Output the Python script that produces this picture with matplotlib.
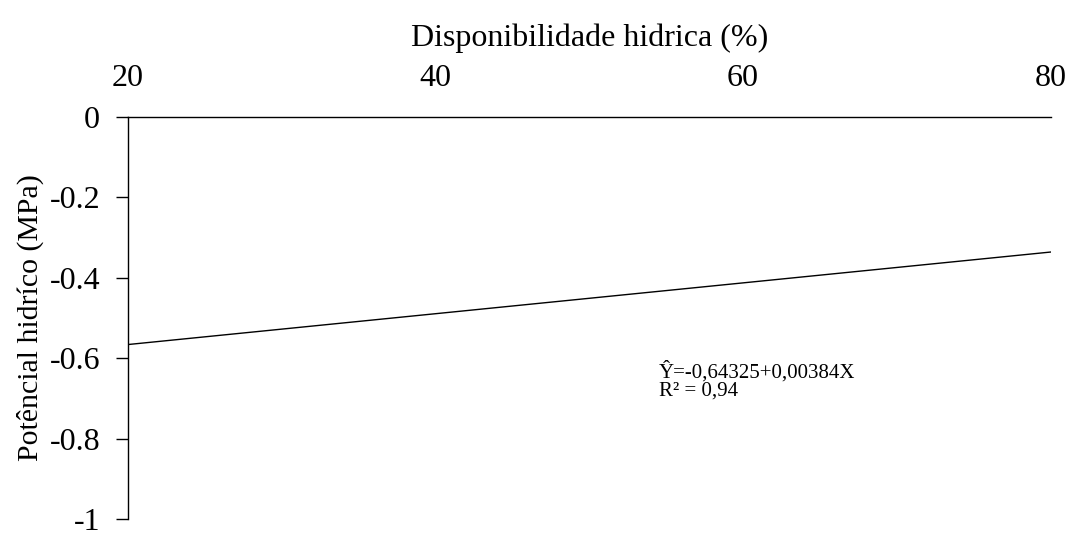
import matplotlib
matplotlib.use("Agg")
import matplotlib.pyplot as plt

x_vals = [20, 80]
y_vals = [-0.566, -0.336]
x_ticks = [20, 40, 60, 80]
y_ticks = [0, -0.2, -0.4, -0.6, -0.8, -1]
y_tick_labels = ["0", "-0.2", "-0.4", "-0.6", "-0.8", "-1"]
eq_lines = ['Ŷ=-0,64325+0,00384X', 'R² = 0,94']

plt.rcParams['font.family'] = ['Liberation Serif', 'DejaVu Serif']

fig = plt.figure(figsize=(10.72, 5.34), dpi=100)
ax = fig.add_axes([0.1194, 0.028, 0.8606, 0.753])
ax.plot(x_vals, y_vals, color='black', linewidth=1.0)
ax.set_xlim(20, 80)
ax.set_ylim(-1, 0)
ax.xaxis.tick_top()
ax.xaxis.set_label_position('top')
ax.set_xticks(x_ticks)
ax.set_xticklabels([str(v) for v in x_ticks], fontsize=23)
ax.set_yticks(y_ticks)
ax.set_yticklabels(y_tick_labels, fontsize=23)
ax.tick_params(axis='x', length=0, pad=17)
ax.tick_params(axis='y', length=9, width=1, pad=11, direction='out')
for s in ['right', 'bottom']:
    ax.spines[s].set_visible(False)
for s in ['top', 'left']:
    ax.spines[s].set_linewidth(1.0)
ax.set_xlabel('Disponibilidade hidrica (%)', fontsize=23, labelpad=13)
ax.set_ylabel('Potêncial hidríco (MPa)', fontsize=21.5, labelpad=4)
ax.text(0.5755, 0.351, eq_lines[0], transform=ax.transAxes,
        fontsize=15, va='baseline', ha='left')
ax.text(0.5755, 0.306, eq_lines[1], transform=ax.transAxes,
        fontsize=15, va='baseline', ha='left')
fig.savefig('out.png', dpi=100)
